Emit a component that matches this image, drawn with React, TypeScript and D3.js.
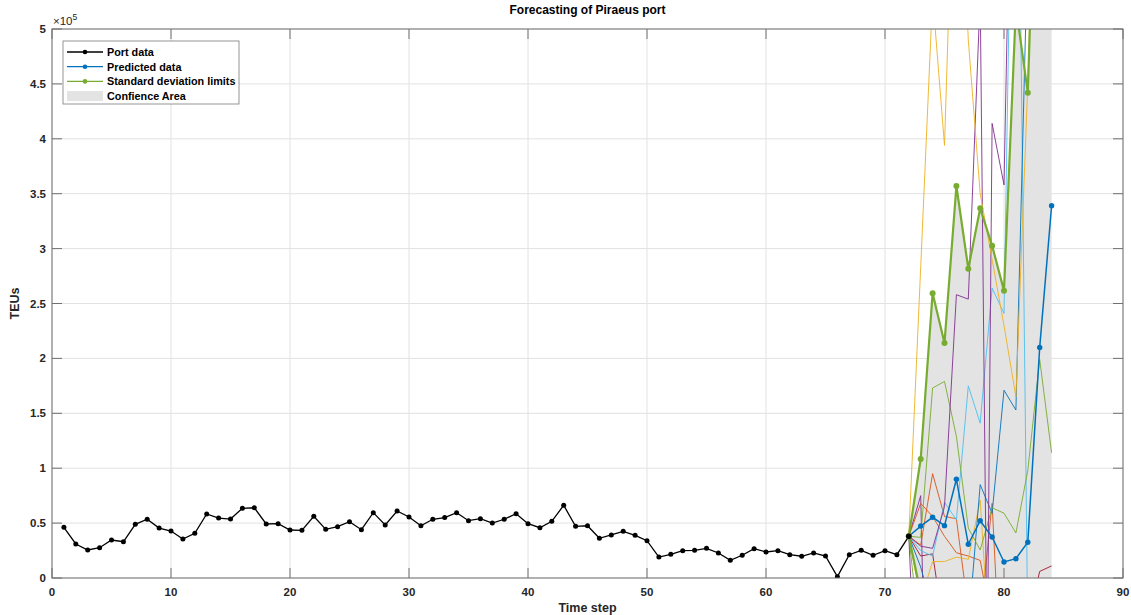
import React from "react";
import * as d3 from "d3";

// ---------- data ----------
const portSteps = d3.range(1, 73);
const portData = [
  46200, 31000, 25500, 27600, 34600, 33000, 48900, 53500, 45500, 42800,
  35500, 40700, 58300, 54600, 53700, 63500, 64000, 49200, 49500, 43700,
  43400, 56200, 44300, 46700, 51300, 44000, 59500, 48300, 61000, 55600,
  47600, 53500, 55000, 59500, 52200, 54000, 50000, 53500, 58600, 49500,
  45800, 51600, 66200, 47100, 47600, 36200, 39200, 42500, 38900, 34000,
  19100, 21600, 24900, 25200, 27000, 22800, 16100, 20700, 26700, 23700,
  24900, 21200, 19800, 22800, 20000, 1200, 21200, 25200, 20700, 24900,
  21200, 38000,
];

const forecastSteps = d3.range(72, 85);
const predicted = [38000, 47300, 55300, 47700, 89900, 30700, 52200, 37300, 14600, 17600, 32500, 210000, 339000];
const upperLimit = [38000, 108400, 259300, 214000, 357000, 281700, 336700, 302700, 261700, 520000, 442000, 780000, 850000];
const lowerLimit = [38000, -14000, -149000, -119000, -177000, -220000, -232000, -228000, -232000, -485000, -377000, -320000, -220000];

// simulated trajectories (TEUs)
const simYellowA = [38000, 283000, 530000, 394000, 740000, 490000, 350000, 290000, 230000, 165000, 450000, 800000, 900000];
const simYellowB = [38000, -20000, 15000, 15000, 19000, 17000, 71000, -100000, -150000, -150000, -150000, -150000, -150000];
const simOrangeA = [38000, 68000, 56000, 38000, 23000, 20000, 16000, -40000, -100000, -100000, -100000, -100000, -100000];
const simOrangeB = [38000, 30000, 95000, 56000, 54000, -30000, -40000, 68000, -150000, -200000, -200000, -200000, -200000];
const simPurpleA = [38000, 29000, 27000, 65000, 258000, 254000, 530000, -530000, -600000, -600000, -600000, -600000, -600000];
const simPurpleB = [38000, -200000, -300000, -400000, -500000, -600000, -800000, 414000, 358000, 900000, 900000, 900000, 900000];
const simPurpleC = [38000, 75000, -400000, -400000, -400000, -400000, -400000, -400000, -400000, -400000, -400000, -400000, -400000];
const simLightBlue = [38000, 25000, 20000, 69000, 53000, 175000, 141000, 264000, 241000, 890000, -50000, -100000, -100000];
const simBlue = [38000, 10000, -30000, -60000, -50000, -46000, 85000, 59000, 171000, 153000, 580000, 900000, 900000];
const simGreenA = [38000, 37000, 173000, 179000, 129000, 45500, 25500, 64000, 59000, 41000, 98000, 199000, 114000];
const simGreenB = [38000, -60000, -100000, -150000, -150000, -150000, -150000, -150000, -150000, -150000, -150000, -150000, -150000];
const simRed = [38000, 20000, 22000, -50000, -100000, -100000, -100000, -100000, -100000, -100000, -40000, 6000, 11000];

const xTicks = d3.range(0, 91, 10);
const yTicks = d3.range(0, 500001, 50000);
const yTickLabels = ["0", "0.5", "1", "1.5", "2", "2.5", "3", "3.5", "4", "4.5", "5"];

const legendItems = ["Port data", "Predicted data", "Standard deviation limits", "Confience Area"];

// ---------- layout ----------
const W = 1131, H = 615;
const L = 52, R = 1123, T = 29, B = 578;
const FONT = "'Liberation Sans', Arial, Helvetica, sans-serif";

const C = {
  blue: "#0072BD", orange: "#D95319", yellow: "#EDB120", purple: "#7E2F8E",
  green: "#77AC30", light: "#4DBEEE", red: "#A2142F",
};

export default function App() {
  const x = d3.scaleLinear().domain([0, 90]).range([L, R]);
  const y = d3.scaleLinear().domain([0, 500000]).range([B, T]);
  const line = d3.line<[number, number]>().x((d) => x(d[0])).y((d) => y(d[1]));
  const zip = (xs: number[], ys: number[]) => xs.map((v, i) => [v, ys[i]] as [number, number]);

  const area = d3
    .area<number>()
    .x((_, i) => x(forecastSteps[i]))
    .y0((_, i) => y(lowerLimit[i]))
    .y1((_, i) => y(upperLimit[i]));

  const sims: [number[], string][] = [
    [simGreenB, C.green],
    [simRed, C.red],
    [simPurpleC, C.purple],
    [simOrangeA, C.orange],
    [simOrangeB, C.orange],
    [simYellowB, C.yellow],
    [simLightBlue, C.light],
    [simBlue, C.blue],
    [simGreenA, C.green],
    [simPurpleA, C.purple],
    [simPurpleB, C.purple],
    [simYellowA, C.yellow],
  ];

  const legendColors = ["#000", C.blue, C.green];

  return (
    <svg width={W} height={H} style={{ position: "absolute", left: 0, top: 0, background: "#fff" }} fontFamily={FONT}>
      <defs>
        <clipPath id="plotClip">
          <rect x={L} y={T} width={R - L} height={B - T} />
        </clipPath>
      </defs>
      <rect x={L} y={T} width={R - L} height={B - T} fill="#fff" />
      {/* grid */}
      {xTicks.map((t) => (
        <line key={"gx" + t} x1={x(t)} x2={x(t)} y1={T} y2={B} stroke="#e2e2e2" strokeWidth={1} />
      ))}
      {yTicks.map((t) => (
        <line key={"gy" + t} x1={L} x2={R} y1={y(t)} y2={y(t)} stroke="#e2e2e2" strokeWidth={1} />
      ))}
      <g clipPath="url(#plotClip)">
        <path d={area(forecastSteps) || ""} fill="#e3e3e3" stroke="none" />
        {sims.map(([s, c], i) => (
          <path key={"s" + i} d={line(zip(forecastSteps, s)) || ""} fill="none" stroke={c} strokeWidth={0.9} />
        ))}
        {/* port data */}
        <path d={line(zip(portSteps, portData)) || ""} fill="none" stroke="#000" strokeWidth={1.3} />
        {portData.map((v, i) => (
          <circle key={"p" + i} cx={x(portSteps[i])} cy={y(v)} r={2.5} fill="#000" />
        ))}
        {/* predicted */}
        <path d={line(zip(forecastSteps, predicted)) || ""} fill="none" stroke={C.blue} strokeWidth={1.5} />
        {predicted.map((v, i) => (
          <circle key={"pr" + i} cx={x(forecastSteps[i])} cy={y(v)} r={2.7} fill={C.blue} />
        ))}
        {/* std limits */}
        {[upperLimit, lowerLimit].map((arr, j) => (
          <g key={"lim" + j}>
            <path d={line(zip(forecastSteps, arr)) || ""} fill="none" stroke={C.green} strokeWidth={2.2} />
            {arr.map((v, i) => (
              <circle key={"l" + i} cx={x(forecastSteps[i])} cy={y(v)} r={3} fill={C.green} />
            ))}
          </g>
        ))}
        <circle cx={x(72)} cy={y(38000)} r={2.8} fill="#000" />
      </g>
      {/* axes box */}
      <rect x={L} y={T} width={R - L} height={B - T} fill="none" stroke="#707070" strokeWidth={1} />
      {xTicks.map((t) => (
        <g key={"tx" + t}>
          <line x1={x(t)} x2={x(t)} y1={B} y2={B - 10} stroke="#707070" />
          <line x1={x(t)} x2={x(t)} y1={T} y2={T + 10} stroke="#707070" />
          <text x={x(t)} y={B + 18} textAnchor="middle" fontSize={11.5} fontWeight="bold" fill="#262626">
            {t}
          </text>
        </g>
      ))}
      {yTicks.map((t, i) => (
        <g key={"ty" + t}>
          <line x1={L} x2={L + 10} y1={y(t)} y2={y(t)} stroke="#707070" />
          <line x1={R} x2={R - 10} y1={y(t)} y2={y(t)} stroke="#707070" />
          <text x={L - 6} y={y(t) + 4} textAnchor="end" fontSize={11.5} fontWeight="bold" fill="#262626">
            {yTickLabels[i]}
          </text>
        </g>
      ))}
      {/* exponent */}
      <text x={53} y={25} fontSize={11.5} fill="#262626">
        ×10
        <tspan dy={-5} fontSize={8.5}>5</tspan>
      </text>
      {/* title and labels */}
      <text x={(L + R) / 2} y={14} textAnchor="middle" fontSize={12} fontWeight="bold" fill="#000">
        Forecasting of Piraeus port
      </text>
      <text x={(L + R) / 2} y={612} textAnchor="middle" fontSize={12.5} fontWeight="bold" fill="#262626">
        Time step
      </text>
      <text transform={`translate(19,${(T + B) / 2}) rotate(-90)`} textAnchor="middle" fontSize={12.5} fontWeight="bold" fill="#262626">
        TEUs
      </text>
      {/* legend */}
      <g>
        <rect x={63} y={41} width={176} height={63} fill="#fff" stroke="#7a7a7a" strokeWidth={0.8} />
        {legendItems.map((name, i) => {
          const ly = 52 + i * 14.7;
          return (
            <g key={name}>
              {i < 3 ? (
                <>
                  <line x1={67} x2={103} y1={ly} y2={ly} stroke={legendColors[i]} strokeWidth={1.3} />
                  <circle cx={85} cy={ly} r={2.3} fill={legendColors[i]} />
                </>
              ) : (
                <rect x={67} y={ly - 5} width={36} height={10} fill="#e3e3e3" />
              )}
              <text x={107} y={ly + 4} fontSize={10.8} fontWeight="bold" fill="#000">
                {name}
              </text>
            </g>
          );
        })}
      </g>
    </svg>
  );
}
